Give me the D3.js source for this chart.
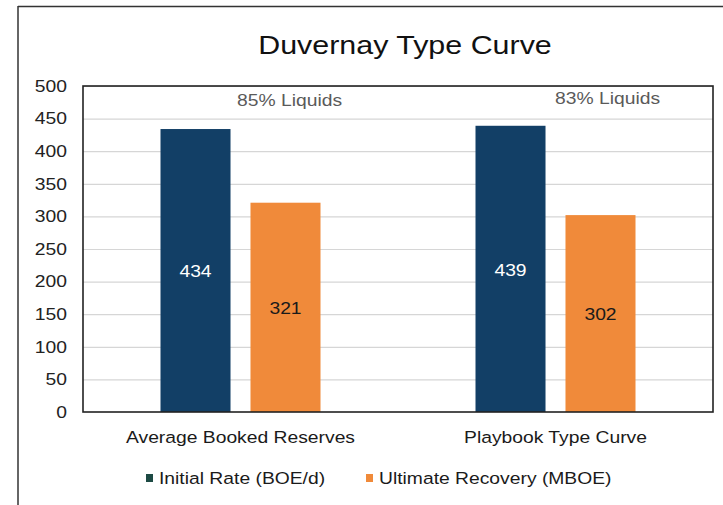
<!DOCTYPE html>
<html>
<head>
<meta charset="utf-8">
<script src="https://cdn.jsdelivr.net/npm/d3@7"></script>
<style>
  html, body { margin: 0; padding: 0; background: #fff; }
  svg { display: block; font-family: "Liberation Sans", Arial, sans-serif; }
</style>
</head>
<body>
<svg id="chart" width="723" height="505"></svg>
<script>
// Chart data
const categories = ["Average Booked Reserves", "Playbook Type Curve"];
const seriesNames = ["Initial Rate (BOE/d)", "Ultimate Recovery (MBOE)"];
const initialRate = [434, 439];
const ultimateRecovery = [321, 302];
const liquidsNotes = ["85% Liquids", "83% Liquids"];
const yTicks = [0, 50, 100, 150, 200, 250, 300, 350, 400, 450, 500];

const colors = ["#123f66", "#f08a3a"];
const legendColors = ["#1d4a44", "#f08a3a"];
const labelColors = ["#ffffff", "#1a1a1a"];
const seriesValues = [initialRate, ultimateRecovery];

// Text in this chart is set slightly wide
const SX = 1.17;

const svg = d3.select("#chart");
const plot = { left: 83, right: 713, top: 86, bottom: 412 };

// Places a text element at (x, y) with the horizontal stretch applied
function place(sel, fx, fy, sx = SX) {
  sel.attr("x", 0).attr("y", 0)
    .attr("transform", (d, i) => `translate(${fx(d, i)},${fy(d, i)}) scale(${sx},1)`);
}

// Outer frame (top and left edges)
svg.append("line").attr("x1", 18).attr("x2", 723).attr("y1", 6.5).attr("y2", 6.5)
  .attr("stroke", "#333").attr("stroke-width", 1.5);
svg.append("line").attr("x1", 18).attr("x2", 18).attr("y1", 6).attr("y2", 505)
  .attr("stroke", "#333").attr("stroke-width", 1.5);

// Title
svg.append("text").attr("text-anchor", "middle")
  .attr("font-size", 26).attr("fill", "#111").text("Duvernay Type Curve")
  .call(place, () => 405, () => 54, 1.17);

const y = d3.scaleLinear().domain([0, 500]).range([plot.bottom, plot.top]);
const x0 = d3.scaleBand().domain(categories).range([plot.left, plot.right]);
const x1 = d3.scaleBand().domain(seriesNames).range([-80, 80]).paddingInner(0.222);

// Gridlines
svg.append("g").selectAll("line").data(yTicks.filter(d => d > 0)).join("line")
  .attr("x1", plot.left).attr("x2", plot.right)
  .attr("y1", d => y(d) + 0.5).attr("y2", d => y(d) + 0.5)
  .attr("stroke", "#d6d6d6").attr("stroke-width", 1.2);

// Y axis labels
const yAxis = d3.axisLeft(y).tickValues(yTicks).tickSize(0).tickPadding(16);
const gy = svg.append("g").attr("transform", `translate(${plot.left},0)`).call(yAxis);
gy.select(".domain").remove();
gy.selectAll(".tick text")
  .attr("font-size", 16.5).attr("fill", "#222")
  .attr("font-family", "Liberation Sans, Arial, sans-serif")
  .attr("x", -16 / SX).attr("transform", `scale(${SX},1)`);

// Bars
const rows = [];
categories.forEach((c, i) => {
  seriesNames.forEach((s, j) => rows.push({ c, s, j, v: seriesValues[j][i] }));
});
const barX = d => x0(d.c) + x0.bandwidth() / 2 + x1(d.s);

svg.append("g").selectAll("rect").data(rows).join("rect")
  .attr("x", barX)
  .attr("width", x1.bandwidth())
  .attr("y", d => y(d.v))
  .attr("height", d => y(0) - y(d.v))
  .attr("fill", d => colors[d.j]);

// Value labels in the middle of each bar
svg.append("g").selectAll("text").data(rows).join("text")
  .attr("dy", "0.35em")
  .attr("text-anchor", "middle").attr("font-size", 16.5)
  .attr("fill", d => labelColors[d.j]).text(d => d.v)
  .call(place, d => barX(d) + x1.bandwidth() / 2, d => (y(d.v) + y(0)) / 2 + 1);

// Liquids notes above each group
svg.append("g").selectAll("text").data(liquidsNotes).join("text")
  .attr("dy", "0.35em")
  .attr("text-anchor", "middle").attr("font-size", 16.5).attr("fill", "#5a5a5a")
  .text(d => d)
  .call(place, (d, i) => x0(categories[i]) + x0.bandwidth() / 2 + 49 + i * 3,
               (d, i) => y(480) + (i === 0 ? 1 : -1));

// Plot frame
svg.append("rect").attr("x", plot.left).attr("y", plot.top)
  .attr("width", plot.right - plot.left).attr("height", plot.bottom - plot.top)
  .attr("fill", "none").attr("stroke", "#222").attr("stroke-width", 1.6);

// Category labels
svg.append("g").selectAll("text").data(categories).join("text")
  .attr("dy", "0.35em")
  .attr("text-anchor", "middle").attr("font-size", 16.5).attr("fill", "#1a1a1a")
  .text(d => d)
  .call(place, d => x0(d) + x0.bandwidth() / 2, () => 437);

// Legend
const legendX = [146, 366];
const lg = svg.append("g").selectAll("g").data(seriesNames).join("g")
  .attr("transform", (d, i) => `translate(${legendX[i]},478)`);
lg.append("rect").attr("x", 0).attr("y", -4).attr("width", 7).attr("height", 8)
  .attr("fill", (d, i) => legendColors[i]);
lg.append("text").attr("dy", "0.35em").attr("font-size", 16.5)
  .attr("fill", "#1a1a1a").text(d => d)
  .call(place, () => 13, () => 0);
</script>
</body>
</html>
